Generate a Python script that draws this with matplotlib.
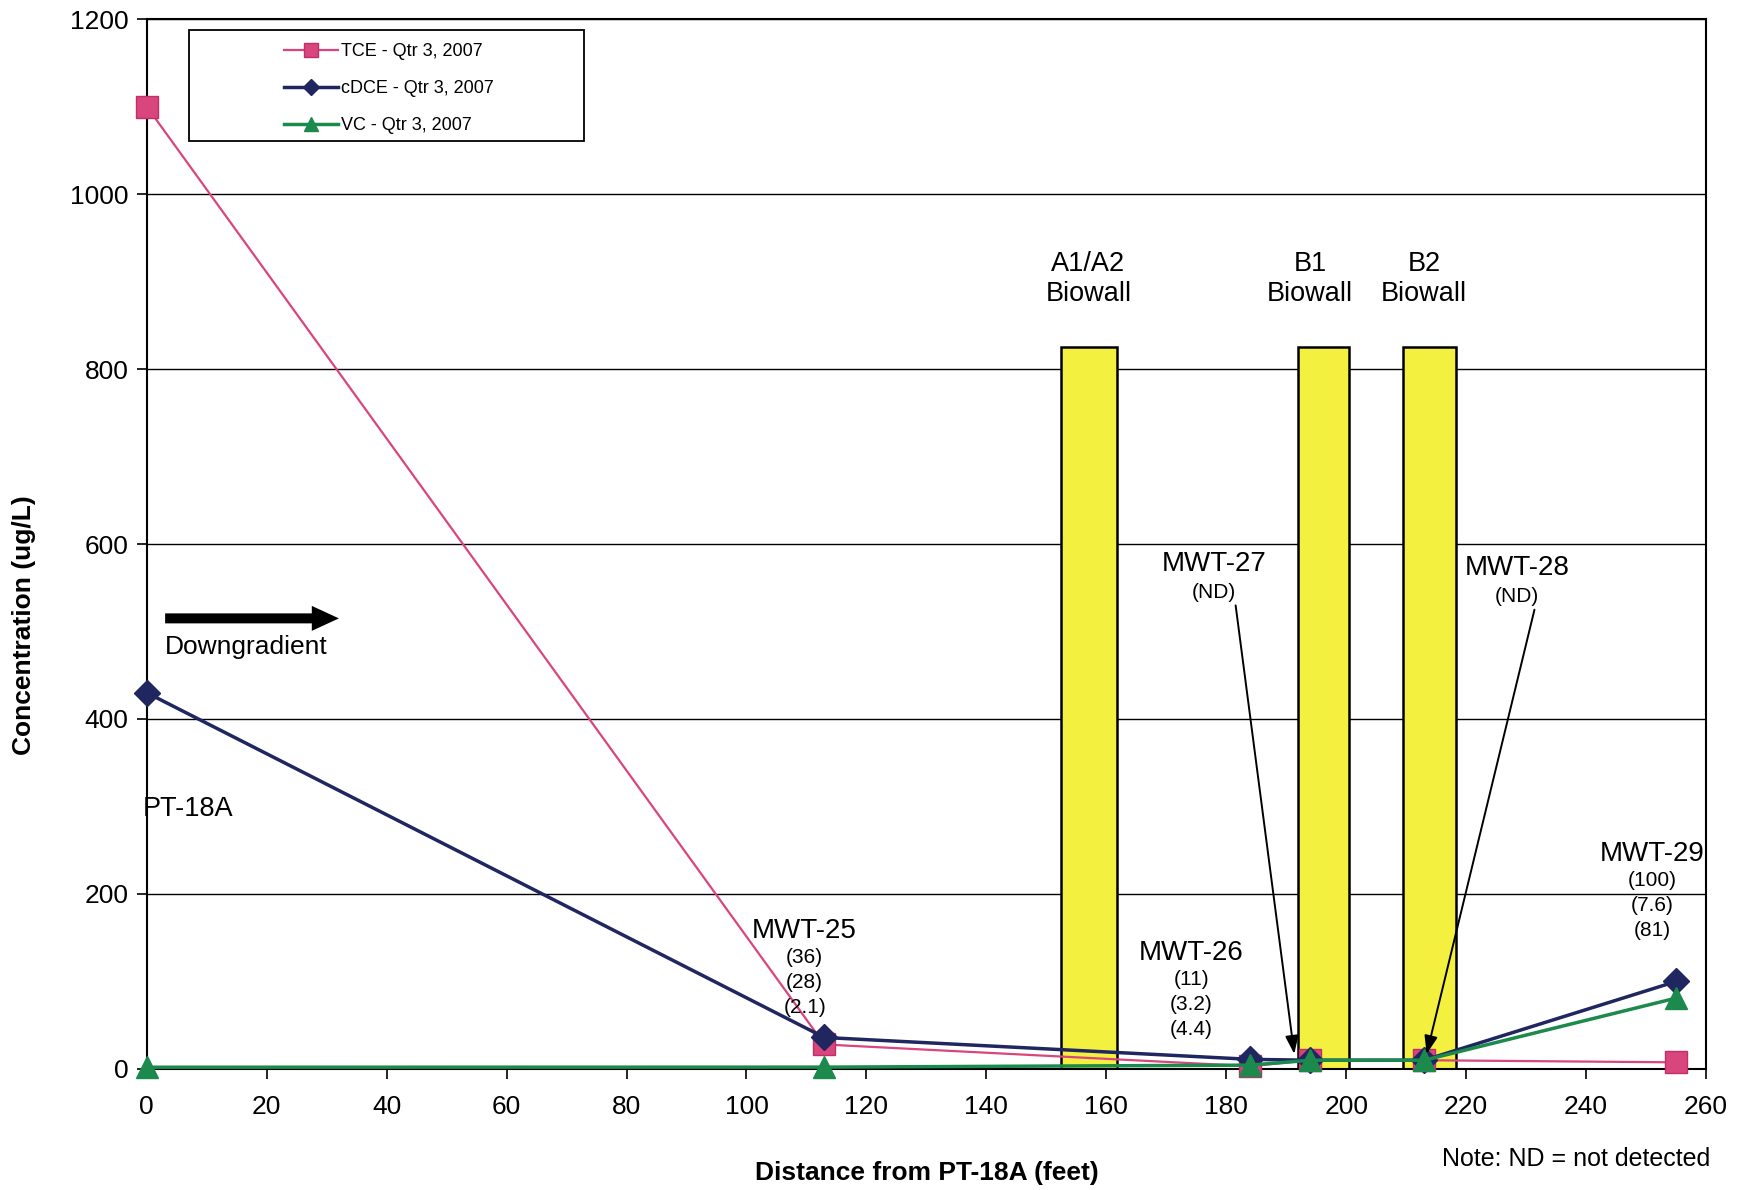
import matplotlib
matplotlib.use("Agg")
import matplotlib.pyplot as plt
from matplotlib.patches import Rectangle

plt.rcParams['font.family'] = ['Liberation Sans', 'DejaVu Sans']

# Data
distance = [0, 113, 184, 194, 213, 255]
tce = [1100, 28, 3.2, 10, 10, 7.6]
cdce = [430, 36, 11, 10, 10, 100]
vc = [2, 2.1, 4.4, 10, 10, 81]
series_labels = ["TCE - Qtr 3, 2007", "cDCE - Qtr 3, 2007", "VC - Qtr 3, 2007"]

biowall_names = ["A1/A2\nBiowall", "B1\nBiowall", "B2\nBiowall"]
biowall_label_x = [157, 194, 213]
biowall_start = [152.5, 192.0, 209.5]
biowall_end = [161.8, 200.5, 218.3]
biowall_height = 825

fig = plt.figure(figsize=(17.43, 11.90), dpi=100)
ax = fig.add_axes([0.0842, 0.1017, 0.8946, 0.8823])

# biowalls
for name, lx, s, e in zip(biowall_names, biowall_label_x, biowall_start, biowall_end):
    ax.add_patch(Rectangle((s, 0), e - s, biowall_height, facecolor='#F4F040',
                           edgecolor='black', linewidth=1.8, zorder=1))
    ax.text(lx, 903, name, ha='center', va='center', fontsize=19.5,
            linespacing=1.2, zorder=5)

c_tce = '#D9457D'
c_cdce = '#1F2660'
c_vc = '#1B8A4C'
ax.plot(distance, tce, color=c_tce, lw=1.6, marker='s', ms=16.5, mfc=c_tce,
        mec='#C03068', label=series_labels[0], zorder=3, clip_on=False)
ax.plot(distance, cdce, color=c_cdce, lw=2.5, marker='D', ms=13, mfc=c_cdce,
        mec=c_cdce, label=series_labels[1], zorder=4, clip_on=False)
ax.plot(distance, vc, color=c_vc, lw=2.5, marker='^', ms=16, mfc=c_vc,
        mec=c_vc, label=series_labels[2], zorder=4, clip_on=False)

ax.set_xlim(0, 260)
ax.set_ylim(0, 1200)
ax.set_xticks(range(0, 261, 20))
ax.set_yticks(range(0, 1201, 200))
ax.yaxis.grid(True, color='black', lw=1.0)
ax.set_axisbelow(True)
ax.tick_params(axis='both', labelsize=19, direction='out', length=7, width=1.2)
ax.tick_params(axis='x', pad=12)
ax.tick_params(axis='y', pad=6)
for sp in ax.spines.values():
    sp.set_linewidth(1.5)

ax.set_xlabel("Distance from PT-18A (feet)", fontsize=19, fontweight='bold')
ax.xaxis.set_label_coords(0.5, -0.088)
ax.set_ylabel("Concentration (ug/L)", fontsize=19, fontweight='bold')
ax.yaxis.set_label_coords(-0.071, 0.423)

# legend with a separate frame
leg = ax.legend(loc='upper left', bbox_to_anchor=(0.0877, 0.977), fontsize=13,
                frameon=False, handlelength=3.0, markerscale=0.6,
                borderpad=0.0, labelspacing=1.1, borderaxespad=0.0,
                handletextpad=0.2)
leg.set_zorder(10)
ax.add_patch(Rectangle((0.0271, 0.8836), 0.2530, 0.1058, transform=ax.transAxes,
                       facecolor='white', edgecolor='black', lw=1.3, zorder=9))

# well labels
ax.text(-0.7, 297, "PT-18A", fontsize=19.5, ha='left', va='center')
def well(x, y, name, vals):
    ax.text(x, y, name, fontsize=20, ha='center', va='center', zorder=6)
    for i, v in enumerate(vals):
        ax.text(x, y - 31 - 28.5 * i, v, fontsize=15, ha='center', va='center', zorder=6)

well(109.7, 158, "MWT-25", ["(36)", "(28)", "(2.1)"])
well(174.2, 133, "MWT-26", ["(11)", "(3.2)", "(4.4)"])
well(251.1, 246, "MWT-29", ["(100)", "(7.6)", "(81)"])

ax.text(178, 577, "MWT-27", fontsize=20, ha='center', va='center', zorder=6)
ax.text(178, 545, "(ND)", fontsize=15, ha='center', va='center', zorder=6)
ax.text(228.5, 573, "MWT-28", fontsize=20, ha='center', va='center', zorder=6)
ax.text(228.5, 540, "(ND)", fontsize=15, ha='center', va='center', zorder=6)

arrow_kw = dict(arrowstyle='-|>,head_length=1.1,head_width=0.4', color='black', lw=1.4)
ax.annotate("", xy=(191.4, 14), xytext=(181.5, 533), arrowprops=arrow_kw, zorder=7)
ax.annotate("", xy=(213.3, 14), xytext=(231.5, 528), arrowprops=arrow_kw, zorder=7)

# downgradient arrow
ax.annotate("", xy=(32.5, 515), xytext=(2.6, 515),
            arrowprops=dict(arrowstyle='simple,head_length=0.65,head_width=0.6,tail_width=0.24',
                            mutation_scale=30, color='black', lw=0))
ax.text(3, 482, "Downgradient", fontsize=19, ha='left', va='center')

fig.text(0.981, 0.026, "Note: ND = not detected", fontsize=18, ha='right', va='center')

fig.savefig("out.png", dpi=100, facecolor='white')
